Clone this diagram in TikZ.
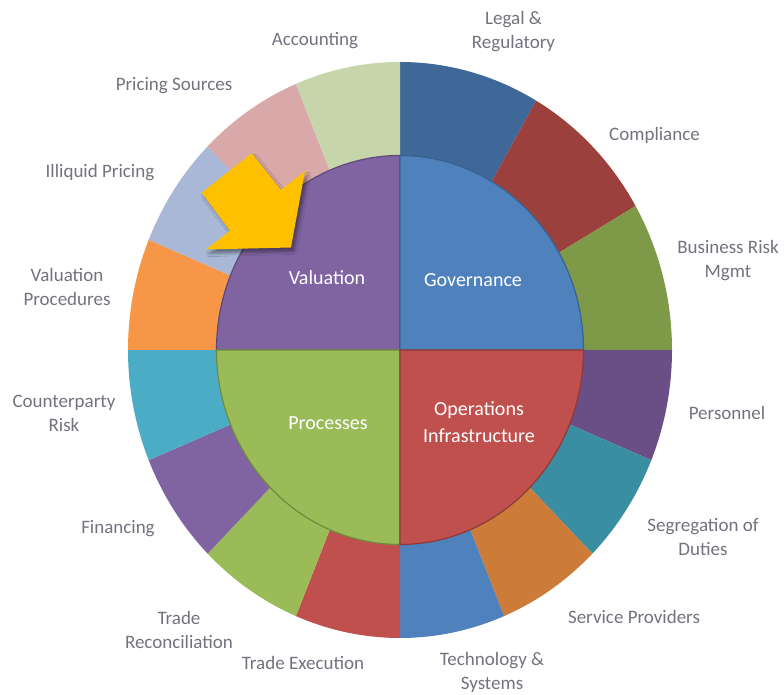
\documentclass[tikz,border=0pt]{standalone}
\usepackage{fontspec}
\setmainfont{Carlito}
\usetikzlibrary{shadows.blur}
\definecolor{cLegal}{HTML}{3E6898}
\definecolor{cComp}{HTML}{9C403D}
\definecolor{cBus}{HTML}{7E9A48}
\definecolor{cPers}{HTML}{6A4F87}
\definecolor{cSeg}{HTML}{3A8EA2}
\definecolor{cServ}{HTML}{CC7B38}
\definecolor{cTech}{HTML}{4F81BD}
\definecolor{cExec}{HTML}{C0504D}
\definecolor{cRec}{HTML}{9BBB59}
\definecolor{cFin}{HTML}{8064A2}
\definecolor{cCpty}{HTML}{4BACC6}
\definecolor{cVProc}{HTML}{F79646}
\definecolor{cIlliq}{HTML}{A8B8D6}
\definecolor{cPSrc}{HTML}{D9A8A8}
\definecolor{cAcct}{HTML}{C6D6AA}
\definecolor{cVal}{HTML}{8064A2}
\definecolor{cValD}{HTML}{5E4A7A}
\definecolor{cGov}{HTML}{4F81BD}
\definecolor{cGovD}{HTML}{3A6290}
\definecolor{cProc}{HTML}{9BBB59}
\definecolor{cProcD}{HTML}{6E8A3C}
\definecolor{cOps}{HTML}{C0504D}
\definecolor{cOpsD}{HTML}{8E3A38}
\definecolor{cArrow}{HTML}{FFC000}
\definecolor{cLabel}{HTML}{737380}
\tikzset{
  lbl/.style={text=cLabel, align=center, inner sep=0pt, font=\fontsize{19}{24}\selectfont},
  inlbl/.style={text=white, align=center, inner sep=0pt, font=\fontsize{20}{27}\selectfont},
}
\begin{document}
\begin{tikzpicture}[x=1pt,y=1pt]
\useasboundingbox (0,0) rectangle (784,695);
\fill[white] (0,0) rectangle (784,695);
\begin{scope}[shift={(400,345)}]
  % outer ring
  \foreach \a/\b/\c in {60/90/cLegal, 30/60/cComp, 0/30/cBus,
      -22.5/0/cPers, -45/-22.5/cSeg, -67.5/-45/cServ, -90/-67.5/cTech,
      -112.5/-90/cExec, -135/-112.5/cRec, -157.5/-135/cFin, -180/-157.5/cCpty,
      157.5/180/cVProc, 135/157.5/cIlliq, 112.5/135/cPSrc, 90/112.5/cAcct}
    \fill[\c] (\a:272 and 288) arc[start angle=\a, end angle=\b, x radius=272, y radius=288]
      -- (\b:183.5 and 194.5) arc[start angle=\b, end angle=\a, x radius=183.5, y radius=194.5] -- cycle;
  % inner quadrants
  \foreach \a/\b/\c/\d in {90/180/cVal/cValD, 0/90/cGov/cGovD, 180/270/cProc/cProcD, 270/360/cOps/cOpsD}
    \filldraw[fill=\c, draw=\d, line width=1.2] (0,0) -- (\a:183.5 and 194.5)
      arc[start angle=\a, end angle=\b, x radius=183.5, y radius=194.5] -- cycle;
\end{scope}
% arrow
\fill[cArrow, blur shadow={shadow xshift=3pt, shadow yshift=-4pt, shadow blur radius=3pt, shadow opacity=40}]
  (201.7,502.3) -- (251.7,541.7) -- (281,505) -- (305,524) -- (291,447.5) -- (206,445.5) -- (230,464.3) -- cycle;
% outer labels
\node[lbl] (acct) at (315,654.3) {Accounting};
\node[lbl] (legal) at (513.5,663) {Legal \&\\Regulatory};
\node[lbl] (comp) at (654.5,560) {Compliance};
\node[lbl] (bus) at (728,434) {Business Risk\\Mgmt};
\node[lbl] (pers) at (727,282) {Personnel};
\node[lbl] (seg) at (703,158) {Segregation of\\Duties};
\node[lbl] (serv) at (634,78) {Service Providers};
\node[lbl] (tech) at (492,23) {Technology \&\\Systems};
\node[lbl] (exec) at (303,32) {Trade Execution};
\node[lbl] (rec) at (179,65) {Trade\\Reconciliation};
\node[lbl] (fin) at (118,166) {Financing};
\node[lbl] (cpty) at (64,281.5) {Counterparty\\Risk};
\node[lbl] (vproc) at (67,408) {Valuation\\Procedures};
\node[lbl] (illiq) at (100,522) {Illiquid Pricing};
\node[lbl] (psrc) at (174,609.3) {Pricing Sources};
% inner labels
\node[inlbl] (val) at (327,417) {Valuation};
\node[inlbl] (gov) at (473,415) {Governance};
\node[inlbl] (proc) at (328,272) {Processes};
\node[inlbl] (ops) at (479,272.5) {Operations\\Infrastructure};
\end{tikzpicture}
\end{document}
